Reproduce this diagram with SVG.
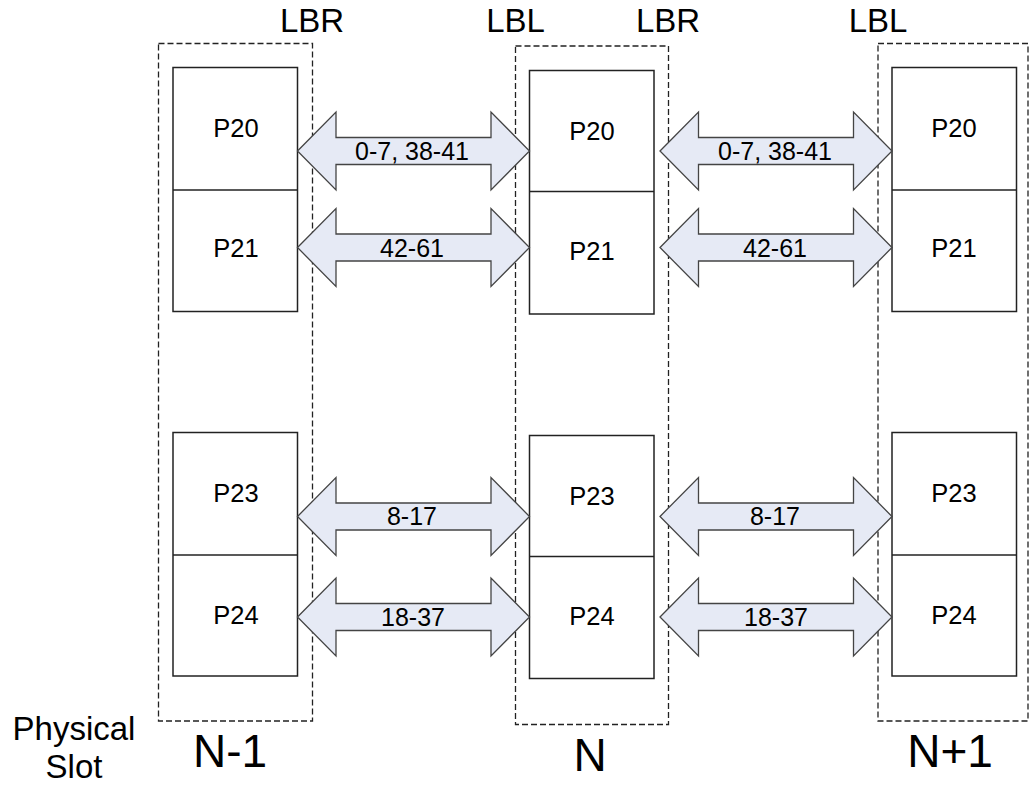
<svg xmlns="http://www.w3.org/2000/svg" width="1031" height="786" viewBox="0 0 1031 786">
  <style>
    text { font-family: "Liberation Sans", Arial, sans-serif; fill: #000; text-anchor: middle; }
    .slot { fill: none; stroke: #222; stroke-width: 1.3; stroke-dasharray: 6 3; }
    .port { fill: #fff; stroke: #222; stroke-width: 1.5; }
    .div { stroke: #222; stroke-width: 1.5; }
    .pl { font-size: 25.5px; }
    .lane { font-size: 25px; }
    .side { font-size: 33px; }
    .slotname { font-size: 46px; }
    .caption { font-size: 33px; }
    .link { fill: #e6eaf5; stroke: #444; stroke-width: 1.3; stroke-linejoin: miter; }
  </style>
  <defs>
    <!-- double-headed block arrow, 232 px long, centred on y = 0 -->
    <polygon id="dbl" class="link" points="0,0 38.5,-39 38.5,-13.5 193.5,-13.5 193.5,-39 232,0 193.5,39 193.5,13.5 38.5,13.5 38.5,39"/>
  </defs>

  <!-- side labels above the slot outlines -->
  <g id="side-labels">
    <text class="side" x="312" y="31.5">LBR</text>
    <text class="side" x="515.5" y="31.5">LBL</text>
    <text class="side" x="668" y="31.5">LBR</text>
    <text class="side" x="878" y="31.5">LBL</text>
  </g>

  <!-- slot N-1 -->
  <g id="slot-n-minus-1">
    <rect class="slot" x="158.5" y="43.5" width="154" height="677.5"/>
    <rect class="port" x="173" y="67.5" width="124.5" height="244"/>
    <line class="div" x1="173" y1="190" x2="297.5" y2="190"/>
    <rect class="port" x="173" y="432.5" width="124.5" height="243.5"/>
    <line class="div" x1="173" y1="555" x2="297.5" y2="555"/>
    <text class="pl" x="236" y="136.5">P20</text>
    <text class="pl" x="236" y="257">P21</text>
    <text class="pl" x="236" y="502">P23</text>
    <text class="pl" x="236" y="623.5">P24</text>
    <text class="slotname" x="230" y="766.5">N-1</text>
  </g>

  <!-- slot N -->
  <g id="slot-n">
    <rect class="slot" x="515.5" y="46" width="153" height="678.5"/>
    <rect class="port" x="529.5" y="70.5" width="124.5" height="243.5"/>
    <line class="div" x1="529.5" y1="191.5" x2="654" y2="191.5"/>
    <rect class="port" x="529.5" y="435.5" width="124.5" height="243"/>
    <line class="div" x1="529.5" y1="556.5" x2="654" y2="556.5"/>
    <text class="pl" x="592" y="139.5">P20</text>
    <text class="pl" x="592" y="260">P21</text>
    <text class="pl" x="592" y="504.5">P23</text>
    <text class="pl" x="592" y="624.5">P24</text>
    <text class="slotname" x="590" y="770.5">N</text>
  </g>

  <!-- slot N+1 -->
  <g id="slot-n-plus-1">
    <rect class="slot" x="878" y="43.5" width="150" height="677.5"/>
    <rect class="port" x="892" y="67.5" width="124.5" height="244"/>
    <line class="div" x1="892" y1="190" x2="1016.5" y2="190"/>
    <rect class="port" x="892" y="432.5" width="124.5" height="243.5"/>
    <line class="div" x1="892" y1="555" x2="1016.5" y2="555"/>
    <text class="pl" x="954" y="136.5">P20</text>
    <text class="pl" x="954" y="257">P21</text>
    <text class="pl" x="954" y="502">P23</text>
    <text class="pl" x="954" y="623.5">P24</text>
    <text class="slotname" x="950" y="766.5">N+1</text>
  </g>

  <!-- physical slot caption -->
  <g id="caption">
    <text class="caption" x="74" y="740">Physical</text>
    <text class="caption" x="74" y="778">Slot</text>
  </g>

  <!-- lane bundles between adjacent slots -->
  <g id="connectors">
    <use href="#dbl" x="297.5" y="151"/>
    <use href="#dbl" x="297.5" y="247.5"/>
    <use href="#dbl" x="297.5" y="516.5"/>
    <use href="#dbl" x="297.5" y="617"/>
    <use href="#dbl" x="660" y="151"/>
    <use href="#dbl" x="660" y="247.5"/>
    <use href="#dbl" x="660" y="516.5"/>
    <use href="#dbl" x="660" y="617"/>
    <text class="lane" x="412" y="159.5">0-7, 38-41</text>
    <text class="lane" x="412" y="256.5">42-61</text>
    <text class="lane" x="412" y="525">8-17</text>
    <text class="lane" x="413" y="625.5">18-37</text>
    <text class="lane" x="775" y="159.5">0-7, 38-41</text>
    <text class="lane" x="775" y="256.5">42-61</text>
    <text class="lane" x="775" y="525">8-17</text>
    <text class="lane" x="776" y="625.5">18-37</text>
  </g>
</svg>
